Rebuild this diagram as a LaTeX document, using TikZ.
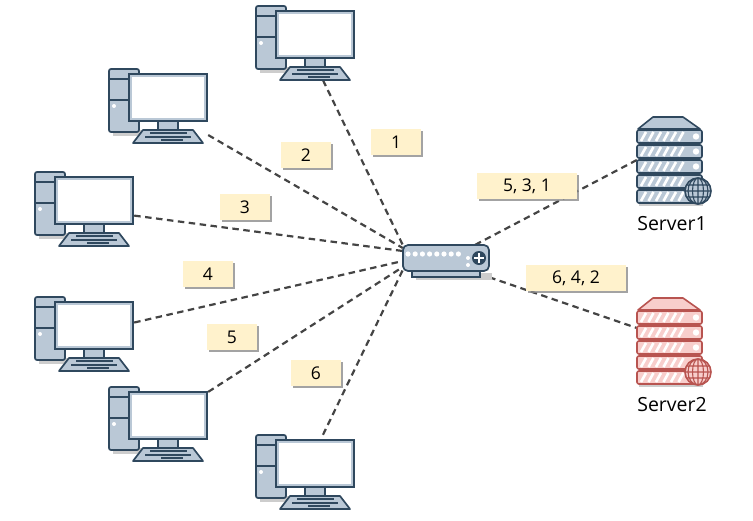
\documentclass[tikz,border=0pt]{standalone}
\usepackage{xcolor}
\usepackage{fontspec}
\setmainfont{Open Sans}
\usepackage{tikz}
\usetikzlibrary{positioning, shadows}
\definecolor{netline}{RGB}{47, 72, 94}
\definecolor{netfill}{RGB}{186, 200, 214}
\definecolor{netshade}{RGB}{205, 205, 205}
\definecolor{redline}{RGB}{184, 84, 80}
\definecolor{redfill}{RGB}{248, 206, 204}
\definecolor{notefill}{RGB}{255, 242, 204}
\definecolor{linkgray}{RGB}{68, 68, 68}
\tikzset{
    pcbox/.style={rectangle, minimum width=100pt, minimum height=74pt, inner sep=0pt},
    srvbox/.style={rectangle, minimum width=66pt, minimum height=88pt, inner sep=0pt},
    switchbox/.style={rectangle, minimum width=86pt, minimum height=32pt, inner sep=0pt},
    note/.style={rectangle, fill=notefill, minimum height=26pt, inner sep=0pt, text centered, font=\fontsize{17.5}{20}\selectfont, drop shadow={shadow xshift=2pt, shadow yshift=-2pt, fill=black!45, opacity=0.8}},
    srvname/.style={inner sep=0pt, font=\fontsize{19.5}{22}\selectfont},
    link/.style={line width=2.2pt, linkgray, dash pattern=on 6.5pt off 4.5pt},
    pics/computer/.style={code={
        \fill[netshade] (-45,24) rectangle (-15,30);
        \draw[netline, fill=netfill, line width=1.7pt, rounded corners=2pt] (-49,-37) rectangle (-19,26);
        \draw[netline, line width=1.7pt] (-49,-27) -- (-19,-27) (-49,-6) -- (-19,-6);
        \fill[white] (-44,0) circle (2pt);
        \draw[netline, fill=netfill, line width=1.7pt] (0,15) rectangle (20,24);
        \draw[netline, fill=netfill, line width=1.7pt] (-29,-32) rectangle (49,15);
        \fill[white] (-26,-29) rectangle (46,12);
        \draw[netline, fill=netfill, line width=1.7pt, line join=round] (-15,24) -- (35,24) -- (45,37) -- (-25,37) -- cycle;
        \draw[netline, line width=1.4pt] (-8,27) -- (29,27) (-13,31) -- (33,31) (3,34) -- (25,34);
    }},
    pics/serverrack/.style 2 args={code={
        \fill[netshade] (-31,40) rectangle (33,46);
        \draw[#1, fill=#2, line width=1.6pt, line join=round] (-32,-31) -- (-17,-43) -- (13,-43) -- (30,-31) -- cycle;
        \foreach \rowy in {-30,-15,0,15,30} {
            \draw[#1, fill=#2, line width=1.6pt, rounded corners=2pt] (-33,\rowy) rectangle (32,\rowy+13);
            \foreach \stripe in {0,1,2,3,4,5}
                \draw[white, line width=2.6pt] (-29+\stripe*7.5,\rowy+11) -- (-24+\stripe*7.5,\rowy+2);
            \fill[white] (26,\rowy+6.5) circle (3.2pt);
        }
        \draw[#1, fill=#2, line width=1.6pt] (28,31) circle (13pt);
        \draw[#1, line width=1.1pt] (28,31) ellipse (5.5pt and 13pt) (28,31) ellipse (10pt and 13pt) (28,18) -- (28,44) (15,31) -- (41,31) (17,25) -- (39,25) (17,37) -- (39,37);
    }},
    pics/switchunit/.style={code={
        \fill[netshade] (-30,12) rectangle (46,19);
        \draw[netline, fill=netfill, line width=1.4pt] (-34,10) rectangle (34,16);
        \draw[netline, fill=netfill, line width=1.7pt, rounded corners=5pt] (-43,-16) rectangle (43,10);
        \foreach \led in {0,...,7}
            \fill[white] (-38+\led*7.2,-7) circle (2.6pt);
        \fill[white] (22,-3) circle (2pt) (22,4) circle (2pt);
        \fill[netline] (33,-3) circle (7pt);
        \draw[white, line width=1.2pt] (33,-8) -- (33,2) (28,-3) -- (38,-3);
    }}
}
\begin{document}
\begin{tikzpicture}[x=1pt, y=-1pt]
    \useasboundingbox (0,0) rectangle (753,520);

    \node (pc1) [pcbox] at (305,43) {};
    \node (pc2) [pcbox] at (158,106) {};
    \node (pc3) [pcbox] at (84,209) {};
    \node (pc4) [pcbox] at (84,334) {};
    \node (pc5) [pcbox] at (158,424) {};
    \node (pc6) [pcbox] at (305,472) {};
    \node (switch) [switchbox] at (446,261) {};
    \node (server1) [srvbox] at (670,160) {};
    \node (server2) [srvbox] at (670,341) {};
    \node (name1) [srvname, below=12pt of server1, xshift=2pt] {Server1};
    \node (name2) [srvname, below=12pt of server2, xshift=2pt] {Server2};

    \draw [link] (pc1) -- ([yshift=16pt]switch.west);
    \draw [link] (pc2) -- ([yshift=13pt]switch.west);
    \draw [link] (pc3) -- ([yshift=10pt]switch.west);
    \draw [link] (pc4) -- (switch.west);
    \draw [link] (pc5) -- ([yshift=-6pt]switch.west);
    \draw [link] (pc6) -- ([yshift=-9pt]switch.west);
    \draw [link] ([xshift=-14pt]switch.north east) -- (server1.west);
    \draw [link] (switch.south east) -- ([yshift=13pt]server2.west);

    \foreach \pcname in {pc1,pc2,pc3,pc4,pc5,pc6}
        \pic at (\pcname) {computer};
    \pic at (switch) {switchunit};
    \pic at (server1) {serverrack={netline}{netfill}};
    \pic at (server2) {serverrack={redline}{redfill}};

    \node (note1) [note, minimum width=50pt] at (396,142) {1};
    \node (note2) [note, minimum width=50pt] at (306,155) {2};
    \node (note3) [note, minimum width=50pt] at (245,207) {3};
    \node (note4) [note, minimum width=50pt] at (208,274) {4};
    \node (note5) [note, minimum width=50pt] at (232,337) {5};
    \node (note6) [note, minimum width=50pt] at (316,373) {6};
    \node (hash1) [note, minimum width=100pt] at (527,186) {5, 3, 1};
    \node (hash2) [note, minimum width=100pt] at (576,278) {6, 4, 2};
\end{tikzpicture}
\end{document}
